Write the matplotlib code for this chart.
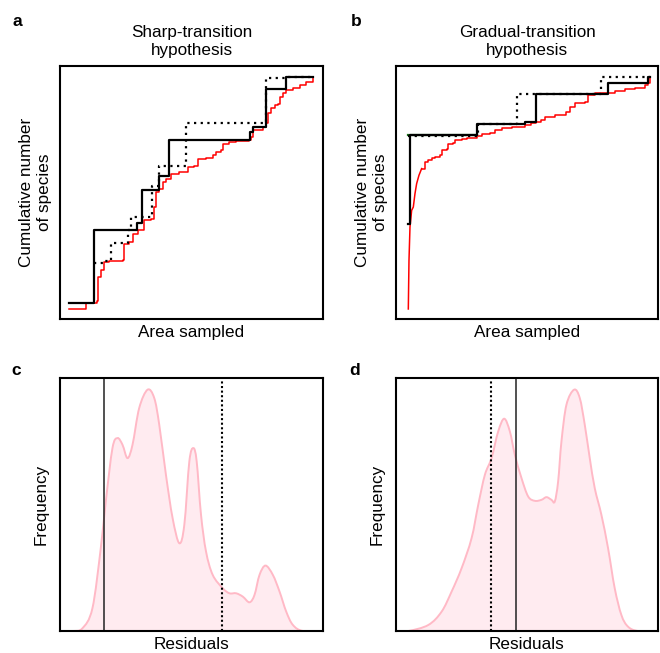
import matplotlib
matplotlib.use("Agg")
import matplotlib.pyplot as plt
import numpy as np
from matplotlib.path import Path
from matplotlib.patches import PathPatch

plt.rcParams['font.family'] = ['Liberation Sans', 'DejaVu Sans']

# ---------------- Panel a: sharp-transition hypothesis ----------------
a_fit_area = [30, 105, 232, 248, 298, 330, 572, 580, 620, 680, 760]
a_fit_species = [48, 267, 287, 385, 427, 537, 560, 575, 687, 725, 725]

a_alt_area = [105, 135, 155, 205, 215, 278, 300, 380, 618, 680, 760]
a_alt_species = [167, 175, 227, 265, 305, 397, 457, 585, 720, 725, 725]

a_obs_area = [30, 80, 110, 115, 118, 125, 135, 150, 192, 195, 210, 220, 235, 255,
              275, 285, 290, 300, 310, 320, 335, 360, 385, 405, 415, 440, 460, 470,
              485, 490, 510, 530, 570, 575, 580, 610, 620, 625, 635, 645, 655, 660,
              670, 680, 700, 720, 740, 760]
a_obs_species = [30, 47, 47, 55, 125, 147, 170, 175, 177, 225, 230, 255, 265, 297,
                 300, 335, 380, 390, 410, 420, 433, 440, 455, 457, 480, 483, 490, 500,
                 505, 525, 530, 533, 535, 545, 567, 575, 585, 615, 630, 640, 643, 665,
                 675, 685, 690, 700, 710, 725]

# ---------------- Panel b: gradual-transition hypothesis ----------------
b_fit_area = [40, 45, 245, 390, 425, 640, 760, 765]
b_fit_species = [285, 550, 583, 590, 673, 707, 723, 723]

b_alt_area = [40, 250, 365, 620, 765]
b_alt_species = [549, 583, 673, 725, 725]

b_green_area = [40, 245]
b_green_species = [550, 550]

b_obs_area = [40, 42, 45, 50, 55, 60, 65, 72, 80, 90, 100, 110, 120, 135, 140, 155,
              160, 175, 180, 200, 215, 245, 260, 285, 300, 320, 350, 390, 410, 425,
              440, 450, 470, 480, 500, 515, 525, 540, 570, 580, 600, 640, 645, 660,
              690, 720, 745, 750, 760, 765]
b_obs_species = [30, 175, 275, 325, 335, 375, 405, 430, 450, 470, 475, 483, 485, 490,
                 505, 510, 523, 527, 535, 540, 543, 547, 553, 557, 565, 570, 575, 580,
                 585, 590, 595, 603, 605, 610, 610, 620, 635, 645, 650, 670, 675, 675,
                 677, 683, 687, 690, 690, 700, 705, 723]

# ---------------- Panel c: residual density (sharp) ----------------
c_resid = [3, 40, 70, 100, 125, 140, 160, 175, 190, 205, 220, 240, 265, 285, 300,
           320, 340, 360, 375, 390, 402, 412, 425, 440, 460, 490, 510, 530, 550,
           570, 585, 600, 618, 640, 660, 680, 700, 730, 790]
c_freq = [0, 0, 8, 68, 248, 388, 548, 578, 558, 518, 558, 668, 723, 698, 618,
          468, 338, 263, 318, 508, 548, 508, 348, 238, 168, 128, 113, 113, 103,
          86, 108, 168, 196, 168, 118, 58, 18, 0, 0]
c_solid_x = 135
c_dotted_x = 488

# ---------------- Panel d: residual density (gradual) ----------------
d_resid = [3, 40, 100, 140, 170, 200, 230, 250, 270, 290, 310, 328, 345, 360, 380,
           400, 420, 440, 455, 470, 480, 490, 500, 515, 538, 555, 570, 585, 600,
           620, 640, 660, 680, 700, 730, 790]
d_freq = [0, 0, 18, 58, 118, 188, 278, 378, 468, 518, 598, 636, 598, 528, 458,
          403, 390, 393, 401, 393, 388, 448, 568, 678, 723, 698, 618, 518, 428,
          348, 248, 128, 48, 13, 0, 0]
d_solid_x = 362
d_dotted_x = 288

W, H = 660, 653
fig = plt.figure(figsize=(W / 100, H / 100), dpi=100)


def add_ax(l, t, r, b):
    return fig.add_axes([l / W, 1 - b / H, (r - l) / W, (b - t) / H])


def smooth_path(xs, ys, close=False):
    """Catmull-Rom style cubic Bezier path through the given points."""
    p = np.column_stack([xs, ys]).astype(float)
    n = len(p)
    verts = [p[0]]
    codes = [Path.MOVETO]
    for i in range(n - 1):
        p0 = p[i - 1] if i > 0 else p[i]
        p1, p2 = p[i], p[i + 1]
        p3 = p[i + 2] if i + 2 < n else p[i + 1]
        c1 = p1 + (p2 - p0) / 6.0
        c2 = p2 - (p3 - p1) / 6.0
        verts += [c1, c2, p2]
        codes += [Path.CURVE4] * 3
    if close:
        verts += [(p[-1][0], 0), (p[0][0], 0), p[0]]
        codes += [Path.LINETO, Path.LINETO, Path.CLOSEPOLY]
    return Path(verts, codes)


axa = add_ax(60, 66, 323, 319)
axb = add_ax(396, 66, 658, 319)
axc = add_ax(60, 378, 323, 631)
axd = add_ax(396, 378, 658, 631)

dot = (0, (1, 2))
for ax in (axa, axb, axc, axd):
    ax.set_xticks([])
    ax.set_yticks([])
    for s in ax.spines.values():
        s.set_linewidth(1.5)
        s.set_color('black')

# panel a
axa.plot(a_obs_area, a_obs_species, color='red', lw=1.1, drawstyle='steps-post')
axa.plot(a_alt_area, a_alt_species, color='black', lw=1.6, ls=dot, drawstyle='steps-post')
axa.plot(a_fit_area, a_fit_species, color='black', lw=1.6, drawstyle='steps-post')
axa.set_xlim(3, 790)
axa.set_ylim(0, 757)

# panel b
k = 9
axb.plot(b_obs_area[:k], b_obs_species[:k], color='red', lw=1.1)
axb.plot(b_obs_area[k - 1:], b_obs_species[k - 1:], color='red', lw=1.1, drawstyle='steps-post')
axb.plot(b_green_area, b_green_species, color='#1a6e1a', lw=1.6)
axb.plot(b_alt_area, b_alt_species, color='black', lw=1.6, ls=dot, drawstyle='steps-post')
axb.plot(b_fit_area, b_fit_species, color='black', lw=1.6, drawstyle='steps-post')
axb.set_xlim(3, 790)
axb.set_ylim(0, 757)

# panel c, d
for ax, xs, ys, sx, dx in ((axc, c_resid, c_freq, c_solid_x, c_dotted_x),
                           (axd, d_resid, d_freq, d_solid_x, d_dotted_x)):
    ax.add_patch(PathPatch(smooth_path(xs, ys, close=True), facecolor='#FFEBF0',
                           edgecolor='none', lw=0))
    ax.add_patch(PathPatch(smooth_path(xs, ys), facecolor='none',
                           edgecolor='#FFB9C6', lw=1.4))
    ax.axvline(sx, color='#222222', lw=1.1)
    ax.axvline(dx, color='black', lw=1.5, ls=(0, (1, 1.2)))
    ax.set_xlim(3, 790)
    ax.set_ylim(0, 758)

fs = 12.3
axa.set_title('Sharp-transition\nhypothesis', fontsize=fs, pad=8, linespacing=1.2)
axb.set_title('Gradual-transition\nhypothesis', fontsize=fs, pad=8, linespacing=1.2)
for ax in (axa, axb):
    ax.set_xlabel('Area sampled', fontsize=fs, labelpad=4)
    ax.set_ylabel('Cumulative number\nof species', fontsize=fs, labelpad=6, linespacing=1.2)
for ax in (axc, axd):
    ax.set_xlabel('Residuals', fontsize=fs, labelpad=4)
    ax.set_ylabel('Frequency', fontsize=fs, labelpad=8)

for lab, x, y in (('a', 17, 21), ('b', 356, 21), ('c', 16, 371), ('d', 355, 371)):
    fig.text(x / W, 1 - y / H, lab, fontsize=12.5, fontweight='bold', ha='center', va='center')

fig.savefig('out.png', dpi=100)
